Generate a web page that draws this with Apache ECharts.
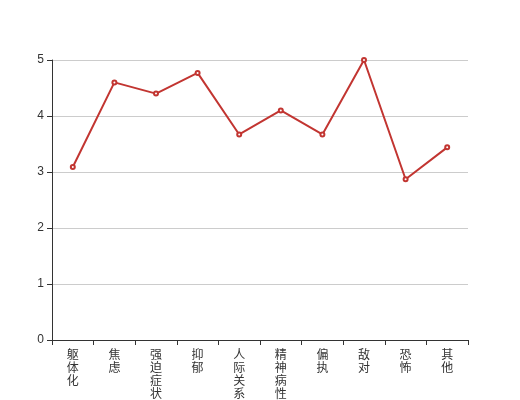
<!DOCTYPE html>
<html>
<head>
<meta charset="utf-8">
<script src="https://cdn.jsdelivr.net/npm/echarts@6/dist/echarts.min.js"></script>
<style>html,body{margin:0;padding:0;background:#fff}#c{width:520px;height:400px}</style>
</head>
<body>
<div id="c"></div>
<script>
var categories = ['躯体化', '焦虑', '强迫症状', '抑郁', '人际关系敏感', '精神病性', '偏执', '敌对', '恐怖', '其他'];
var values = [3.09, 4.60, 4.40, 4.77, 3.67, 4.10, 3.67, 5.00, 2.87, 3.44];
var yTicks = [0, 1, 2, 3, 4, 5];

var chart = echarts.init(document.getElementById('c'), null, {renderer: 'canvas'});
chart.setOption({
  animation: false,
  backgroundColor: '#fff',
  grid: {left: 52, right: 52, top: 60, bottom: 60, containLabel: false, outerBoundsMode: 'none'},
  xAxis: {
    type: 'category',
    data: categories,
    boundaryGap: true,
    axisLine: {show: true, lineStyle: {color: '#333', width: 1}},
    axisTick: {show: true, alignWithLabel: false, length: 5, lineStyle: {color: '#333'}},
    axisLabel: {
      interval: 0,
      color: '#333',
      fontSize: 12,
      fontFamily: 'Noto Sans CJK SC',
      lineHeight: 13,
      formatter: function (v) { return v.split('').join('\n'); }
    }
  },
  yAxis: {
    type: 'value',
    min: yTicks[0],
    max: yTicks[yTicks.length - 1],
    interval: 1,
    axisLine: {show: true, lineStyle: {color: '#333', width: 1}},
    axisTick: {show: true, length: 5, lineStyle: {color: '#333'}},
    axisLabel: {color: '#333', fontSize: 12, fontFamily: 'sans-serif'},
    splitLine: {show: true, lineStyle: {color: '#ccc'}}
  },
  series: [{
    type: 'line',
    data: values,
    symbol: 'emptyCircle',
    symbolSize: 4,
    lineStyle: {color: '#c23531', width: 2},
    itemStyle: {color: '#c23531', borderWidth: 1}
  }]
});
</script>
</body>
</html>
